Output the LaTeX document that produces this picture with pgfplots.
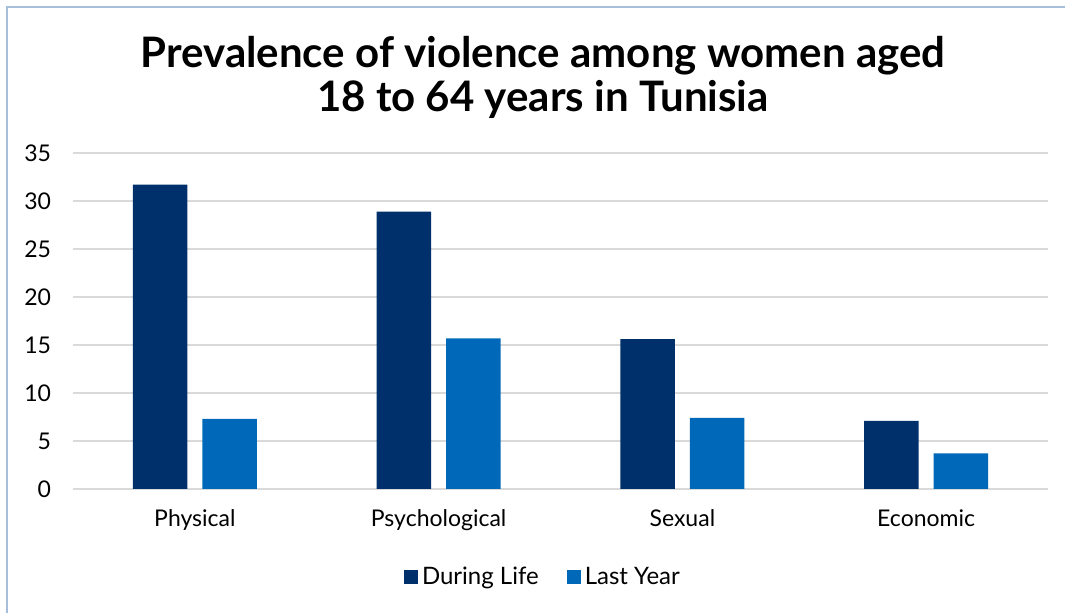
\documentclass[border=0pt]{standalone}
\usepackage{fontspec}
\setmainfont{Lato}
\usepackage{pgfplots}
\pgfplotsset{compat=1.18}
\definecolor{lifecol}{HTML}{00306B}
\definecolor{yearcol}{HTML}{0068B9}
\definecolor{gridcol}{HTML}{D9D9D9}
\definecolor{framecol}{HTML}{A4BEDC}
\begin{document}
\begin{tikzpicture}
% 1 px of the reference = 0.5pt
\useasboundingbox (0,0) rectangle (532.5pt,306.5pt);
\draw[framecol, line width=1pt] (3.25pt,0) -- (3.25pt,303pt);
\draw[framecol, line width=0.6pt] (2.75pt,303pt) -- (532.5pt,303pt);
\node[font=\bfseries\fontsize{21}{22}\selectfont, align=center] at (271.5pt,268pt)
  {Prevalence of violence among women aged\\18 to 64 years in Tunisia};
\begin{axis}[
    at={(36.5pt,62pt)},
    anchor=south west,
    scale only axis,
    width=487.5pt,
    height=168pt,
    ybar=7.5pt,
    bar width=27.25pt,
    xmin=-0.5, xmax=3.5,
    ymin=0, ymax=35,
    ytick={0,5,...,35},
    xtick=data,
    xticklabels={Physical,Psychological,Sexual,Economic},
    axis x line*=bottom,
    axis y line*=left,
    y axis line style={draw=none},
    x axis line style={gridcol, line width=1pt},
    major tick length=0pt,
    ymajorgrids,
    grid style={gridcol, line width=1pt},
    /pgf/number format/assume math mode=true,
    tick label style={font=\fontsize{11.5}{13}\selectfont},
    yticklabel style={xshift=-7.5pt},
    xticklabel style={yshift=-7pt},
    legend style={at={(0.483,-0.262)}, anchor=center, draw=none,
        font=\fontsize{12}{14}\selectfont, legend columns=2,
        /tikz/every even column/.append style={column sep=12pt}},
    legend image code/.code={\draw[#1,draw=none] (0pt,-3.5pt) rectangle (7pt,3.5pt);},
]
\addplot[fill=lifecol, draw=none] coordinates {(0,31.7) (1,28.9) (2,15.6) (3,7.1)};
\addplot[fill=yearcol, draw=none] coordinates {(0,7.3) (1,15.7) (2,7.4) (3,3.7)};
\legend{During Life, Last Year}
\end{axis}
\end{tikzpicture}
\end{document}
